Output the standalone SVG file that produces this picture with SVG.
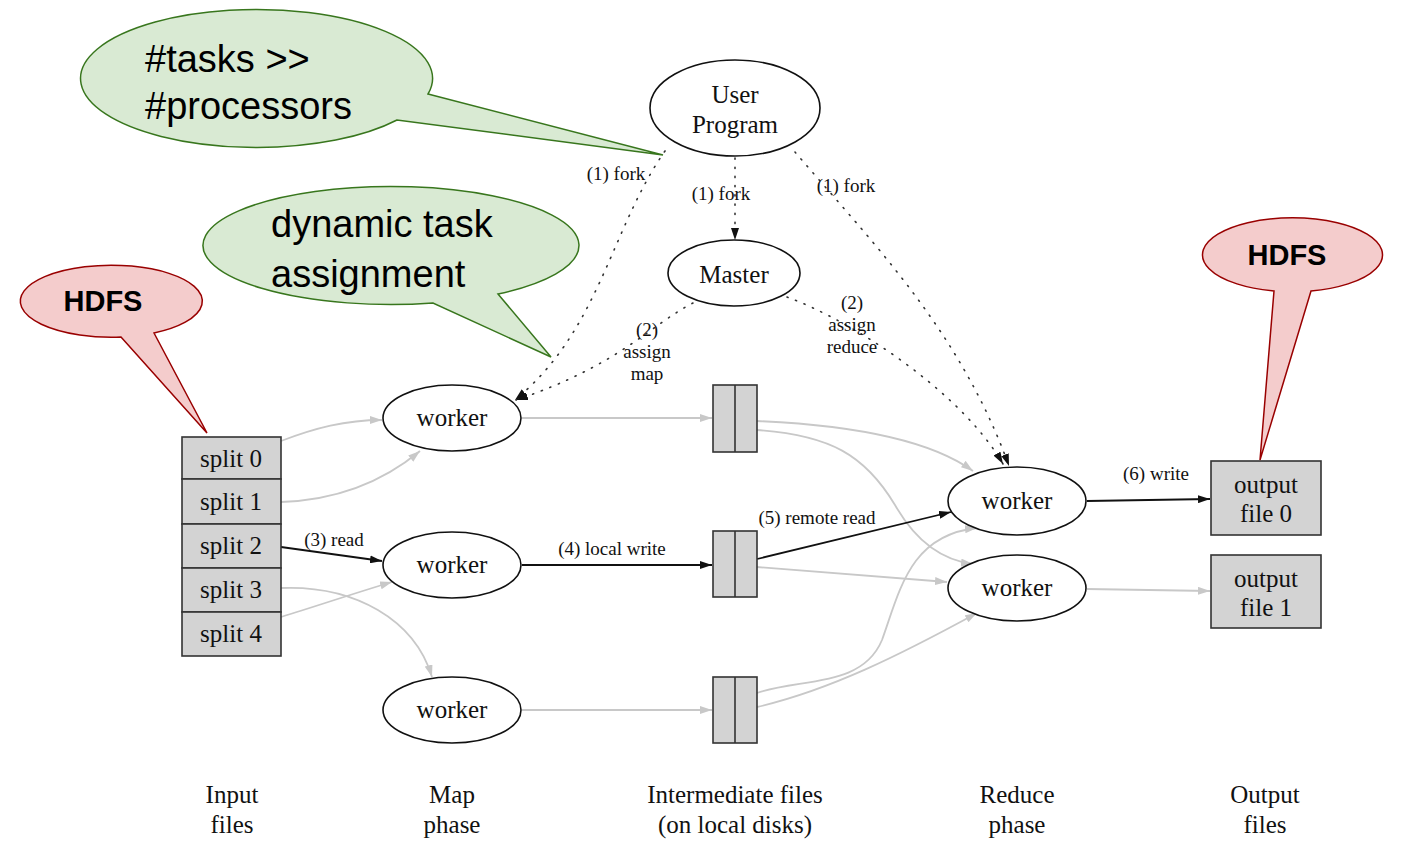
<svg xmlns="http://www.w3.org/2000/svg" width="1414" height="851" viewBox="0 0 1414 851">
<style>
.node{fill:#fff;stroke:#111;stroke-width:1.6}
.box{fill:#d3d3d3;stroke:#333;stroke-width:1.6}
.t{font-family:"Liberation Serif","Times New Roman",serif;font-size:25px;fill:#111;text-anchor:middle}
.el{font-family:"Liberation Serif","Times New Roman",serif;font-size:19px;fill:#111;text-anchor:middle}
.g{fill:none;stroke:#c8c8c8;stroke-width:1.8}
.b{fill:none;stroke:#111;stroke-width:1.8}
.d{fill:none;stroke:#333;stroke-width:1.6;stroke-dasharray:1.2 8;stroke-linecap:round}
.cg{fill:#d9ead3;stroke:#38761d;stroke-width:1.5}
.cr{fill:#f4cccc;stroke:#990000;stroke-width:1.5}
.ct{font-family:"Liberation Sans",Arial,sans-serif;font-size:38px;fill:#000}
.ch{font-family:"Liberation Sans",Arial,sans-serif;font-size:29px;font-weight:bold;fill:#000;text-anchor:middle}
</style>
<defs>
<marker id="ab" markerUnits="userSpaceOnUse" markerWidth="12" markerHeight="8" refX="12" refY="4" orient="auto"><path d="M0,0 L12,4 L0,8 z" fill="#111"/></marker>
<marker id="ag" markerUnits="userSpaceOnUse" markerWidth="12" markerHeight="8" refX="12" refY="4" orient="auto"><path d="M0,0 L12,4 L0,8 z" fill="#c8c8c8"/></marker>
</defs>
<rect width="1414" height="851" fill="#fff"/>

<g id="connectors">
<path class="g" d="M281 441 C315 428 345 420 382 420" marker-end="url(#ag)"/>
<path class="g" d="M281 502 C340 500 385 480 420 451" marker-end="url(#ag)"/>
<path class="g" d="M281 588 C355 585 415 620 432 677" marker-end="url(#ag)"/>
<path class="g" d="M281 617 C320 605 355 593 392 582" marker-end="url(#ag)"/>
<path class="g" d="M522 418 L712 418" marker-end="url(#ag)"/>
<path class="g" d="M522 710 L712 710" marker-end="url(#ag)"/>
<path class="g" d="M757 421 C850 425 930 440 973 471" marker-end="url(#ag)"/>
<path class="g" d="M757 430 C830 435 865 455 895 505 C915 540 940 560 973 564" marker-end="url(#ag)"/>
<path class="g" d="M757 567 L947 582" marker-end="url(#ag)"/>
<path class="g" d="M757 693 C800 678 862 688 882 640 C900 590 910 535 977 528" marker-end="url(#ag)"/>
<path class="g" d="M757 707 C830 690 900 655 977 613" marker-end="url(#ag)"/>
<path class="g" d="M1087 589 L1210 591" marker-end="url(#ag)"/>

<path class="b" d="M281 547 L382 561" marker-end="url(#ab)"/>
<path class="b" d="M522 565 L712 565" marker-end="url(#ab)"/>
<path class="b" d="M757 559 L951 512" marker-end="url(#ab)"/>
<path class="b" d="M1087 501 L1210 499" marker-end="url(#ab)"/>

<path class="d" d="M735 158 L735 240" marker-end="url(#ab)"/>
<path class="d" d="M665 151 C610 230 600 330 515 400" marker-end="url(#ab)"/>
<path class="d" d="M693 303 C650 325 620 365 516 400" marker-end="url(#ab)"/>
<path class="d" d="M787 297 C850 320 960 390 1003 464" marker-end="url(#ab)"/>
<path class="d" d="M795 152 C870 240 960 330 1009 466" marker-end="url(#ab)"/>

<text class="el" x="616" y="180">(1) fork</text>
<text class="el" x="721" y="200">(1) fork</text>
<text class="el" x="846" y="192">(1) fork</text>
<text class="el" x="647" y="336">(2)</text>
<text class="el" x="647" y="358">assign</text>
<text class="el" x="647" y="380">map</text>
<text class="el" x="852" y="309">(2)</text>
<text class="el" x="852" y="331">assign</text>
<text class="el" x="852" y="353">reduce</text>
<text class="el" x="334" y="546">(3) read</text>
<text class="el" x="612" y="555">(4) local write</text>
<text class="el" x="817" y="524">(5) remote read</text>
<text class="el" x="1156" y="480">(6) write</text>
</g>

<g id="user-program">
<ellipse class="node" cx="735" cy="108" rx="85" ry="48"/>
<text class="t" x="735" y="103">User</text>
<text class="t" x="735" y="133">Program</text>
</g>
<g id="master">
<ellipse class="node" cx="734" cy="273" rx="66" ry="33"/>
<text class="t" x="734" y="283">Master</text>
</g>

<g id="input-splits">
<rect class="box" x="182" y="437" width="99" height="42"/>
<rect class="box" x="182" y="479" width="99" height="45"/>
<rect class="box" x="182" y="524" width="99" height="44"/>
<rect class="box" x="182" y="568" width="99" height="44"/>
<rect class="box" x="182" y="612" width="99" height="44"/>
<text class="t" x="231" y="467">split 0</text>
<text class="t" x="231" y="510">split 1</text>
<text class="t" x="231" y="554">split 2</text>
<text class="t" x="231" y="598">split 3</text>
<text class="t" x="231" y="642">split 4</text>
</g>

<g id="map-worker-1">
<ellipse class="node" cx="452" cy="418" rx="69" ry="33"/>
<text class="t" x="452" y="426">worker</text>
</g>
<g id="map-worker-2">
<ellipse class="node" cx="452" cy="565" rx="69" ry="33"/>
<text class="t" x="452" y="573">worker</text>
</g>
<g id="map-worker-3">
<ellipse class="node" cx="452" cy="710" rx="69" ry="33"/>
<text class="t" x="452" y="718">worker</text>
</g>

<g id="intermediate-1">
<rect class="box" x="713" y="385" width="44" height="67"/>
<line x1="735" y1="385" x2="735" y2="452" stroke="#333" stroke-width="1.6"/>
</g>
<g id="intermediate-2">
<rect class="box" x="713" y="531" width="44" height="66"/>
<line x1="735" y1="531" x2="735" y2="597" stroke="#333" stroke-width="1.6"/>
</g>
<g id="intermediate-3">
<rect class="box" x="713" y="677" width="44" height="66"/>
<line x1="735" y1="677" x2="735" y2="743" stroke="#333" stroke-width="1.6"/>
</g>

<g id="reduce-worker-1">
<ellipse class="node" cx="1017" cy="501" rx="69" ry="34"/>
<text class="t" x="1017" y="509">worker</text>
</g>
<g id="reduce-worker-2">
<ellipse class="node" cx="1017" cy="588" rx="69" ry="33"/>
<text class="t" x="1017" y="596">worker</text>
</g>

<g id="output-file-0">
<rect class="box" x="1211" y="461" width="110" height="74"/>
<text class="t" x="1266" y="493">output</text>
<text class="t" x="1266" y="522">file 0</text>
</g>
<g id="output-file-1">
<rect class="box" x="1211" y="555" width="110" height="73"/>
<text class="t" x="1266" y="587">output</text>
<text class="t" x="1266" y="616">file 1</text>
</g>

<g id="phase-labels">
<text class="t" x="232" y="803">Input</text>
<text class="t" x="232" y="833">files</text>
<text class="t" x="452" y="803">Map</text>
<text class="t" x="452" y="833">phase</text>
<text class="t" x="735" y="803">Intermediate files</text>
<text class="t" x="735" y="833">(on local disks)</text>
<text class="t" x="1017" y="803">Reduce</text>
<text class="t" x="1017" y="833">phase</text>
<text class="t" x="1265" y="803">Output</text>
<text class="t" x="1265" y="833">files</text>
</g>

<g id="callout-tasks">
<path class="cg" d="M428 94 L663 155 L397 120 A176 69 0 1 1 428 94 Z"/>
<text class="ct" x="145" y="72">#tasks &gt;&gt;</text>
<text class="ct" x="145" y="119">#processors</text>
</g>
<g id="callout-dynamic">
<path class="cg" d="M498 294 L551 357 L433 303 A188 59 0 1 1 498 294 Z"/>
<text class="ct" x="271" y="237">dynamic task</text>
<text class="ct" x="271" y="287">assignment</text>
</g>
<g id="callout-hdfs-input">
<path class="cr" d="M154 333 L207 433 L121 337 A91 36 0 1 1 154 333 Z"/>
<text class="ch" x="103" y="311">HDFS</text>
</g>
<g id="callout-hdfs-output">
<path class="cr" d="M1311 291 L1260 460 L1274 291 A90 37 0 1 1 1311 291 Z"/>
<text class="ch" x="1287" y="265">HDFS</text>
</g>
</svg>
